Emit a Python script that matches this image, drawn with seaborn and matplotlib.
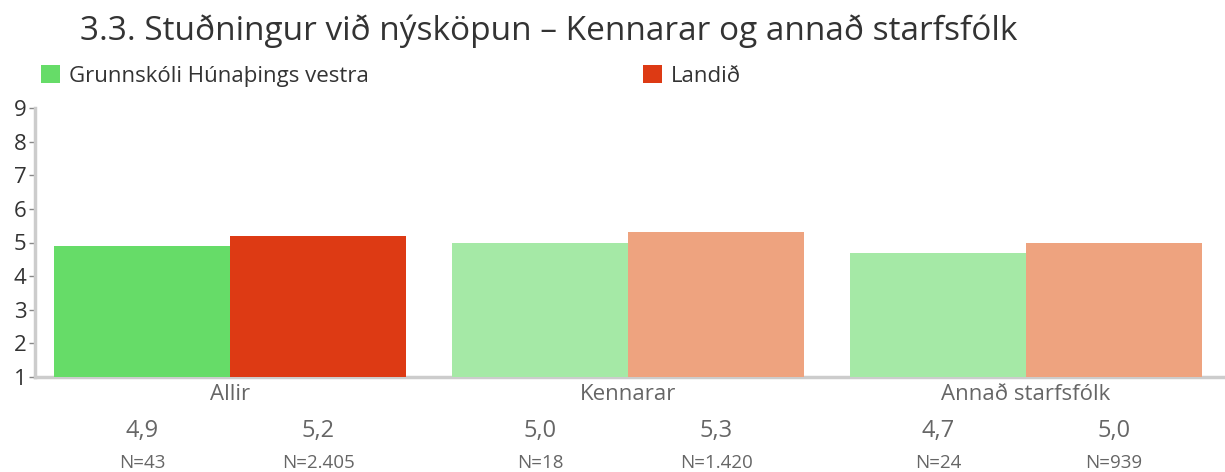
import matplotlib
matplotlib.use("Agg")
import matplotlib.pyplot as plt
import matplotlib.patches as mpatches
import matplotlib.transforms as mtransforms
import seaborn as sns
import pandas as pd

# Data
categories = ["Allir", "Kennarar", "Annað starfsfólk"]
series_names = ["Grunnskóli Húnaþings vestra", "Landið"]
school_values = [4.9, 5.0, 4.7]
national_values = [5.2, 5.3, 5.0]
school_n = [43, 18, 24]
national_n = [2405, 1420, 939]
title = "3.3. Stuðningur við nýsköpun – Kennarar og annað starfsfólk"

df = pd.DataFrame({
    "flokkur": categories * 2,
    "hopur": [series_names[0]] * 3 + [series_names[1]] * 3,
    "gildi": school_values + national_values,
})

sns.set_style("white")
plt.rcParams["font.family"] = ["Open Sans", "DejaVu Sans"]

full_colors = ["#66DC68", "#DD3A14"]
light_colors = ["#A5E9A6", "#EEA37F"]

fig = plt.figure(figsize=(12.25, 4.72), dpi=100)
ax = fig.add_axes([35 / 1225, 1 - 377 / 472, 1 - 35 / 1225, (377 - 108) / 472])

sns.barplot(data=df, x="flokkur", y="gildi", hue="hopur", order=categories,
            hue_order=series_names, palette=full_colors, width=0.885,
            legend=False, ax=ax, linewidth=0, saturation=1)

# First group in full colour, the subgroups in lighter shades
bars = [p for p in ax.patches if isinstance(p, mpatches.Rectangle)]
for s in range(2):
    for c in range(3):
        bar = bars[s * 3 + c]
        bar.set_facecolor(full_colors[s] if c == 0 else light_colors[s])
        bar.set_edgecolor("none")

ax.set_ylim(1, 9)
ax.set_xlim(-0.49, 2.50)
ax.set_yticks(range(1, 10))
ax.set_xlabel("")
ax.set_ylabel("")
ax.set_xticks(range(3))
ax.set_xticklabels(categories, fontsize=16, color="#666666")
ax.tick_params(axis="x", length=0, pad=5)
ax.tick_params(axis="y", length=4, width=1, color="#888888", labelsize=16,
               labelcolor="#333333", pad=2, direction="out", left=True)

for side in ["top", "right"]:
    ax.spines[side].set_visible(False)
for side in ["left", "bottom"]:
    ax.spines[side].set_color("#CCCCCC")
    ax.spines[side].set_linewidth(2.5)
ax.spines["bottom"].set_zorder(0)

# Values and N beneath each bar
trans = mtransforms.blended_transform_factory(ax.transData, ax.transAxes)
values = [school_values, national_values]
counts = [school_n, national_n]
for s in range(2):
    for c in range(3):
        bar = bars[s * 3 + c]
        xc = bar.get_x() + bar.get_width() / 2
        ax.text(xc, -0.2, f"{values[s][c]:.1f}".replace(".", ","),
                transform=trans, ha="center", va="center",
                fontsize=17, color="#666666")
        ax.text(xc, -0.318, "N=" + f"{counts[s][c]:,}".replace(",", "."),
                transform=trans, ha="center", va="center",
                fontsize=13.5, color="#666666")

# Legend entries
for s, xpos in zip(range(2), [41 / 1225, 643 / 1225]):
    handle = mpatches.Patch(facecolor=full_colors[s], edgecolor="none",
                            label=series_names[s])
    fig.legend(handles=[handle], loc="center left",
               bbox_to_anchor=(xpos, 1 - 76 / 472), frameon=False,
               fontsize=16, handlelength=0.85, handleheight=0.85,
               handletextpad=0.4, borderaxespad=0, borderpad=0,
               labelcolor="#333333")

fig.text(80 / 1225, 1 - 31 / 472, title, ha="left", va="center",
         fontsize=24, color="#333333")

fig.savefig("out.png", dpi=100)
